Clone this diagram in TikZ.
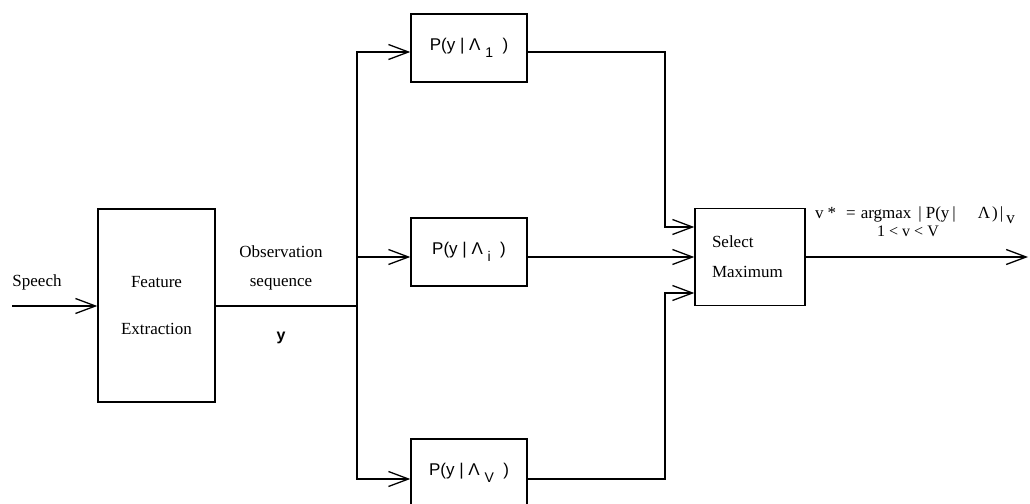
\documentclass[tikz,border=0pt]{standalone}
\usepackage{fontspec}
\setmainfont{Liberation Serif}
\newfontfamily\labelsans{Liberation Sans}
\usetikzlibrary{arrows.meta}
\tikzset{
  block/.style={draw, line width=1.4pt, inner sep=0pt},
  link/.style={line width=1.4pt},
  flow/.style={link, -{Straight Barb[length=20pt, width=15pt, line width=1.3pt]}},
  prob/.style={block, minimum width=116pt, minimum height=68pt,
    font=\labelsans\fontsize{17}{20}\selectfont},
}
\newcommand{\lik}[1]{P(y\ |\ Λ\ \raisebox{-7pt}{\fontsize{14}{14}\selectfont #1}\ \ )}

\begin{document}
\begin{tikzpicture}[x=1pt, y=-1pt, font=\fontsize{17}{20}\selectfont]
  \useasboundingbox (0,0) rectangle (1030,503);

  % Front end
  \node (speech) at (37,282) {Speech};
  \coordinate (mic) at (12,306);
  \node[block, minimum width=117pt, minimum height=193pt, align=center]
    (feat) at (156.5,305.5) {Feature\\[27pt]Extraction};
  \draw[flow] (mic) -- (mic -| feat.west);

  % Observation sequence
  \node[align=center] (obs) at (281,267.5) {Observation\\[9pt]sequence};
  \node[font=\labelsans\bfseries\fontsize{16}{18}\selectfont] (obsy) at (281,338) {y};
  \coordinate (split) at (357,306);
  \draw[link] (feat.east |- split) -- (split);

  % Model likelihoods
  \node[prob] (p1) at (469,48) {\lik{1}};
  \node[prob] (pi) at (469,252) {\lik{i}};
  \node[prob] (pv) at (469,473) {\lik{V}};
  \draw[flow] (split) |- ([yshift=-4pt]p1.west);
  \draw[flow] (split) |- ([yshift=-5pt]pi.west);
  \draw[flow] (split) |- ([yshift=-6pt]pv.west);

  % Selection
  \node[block, minimum width=110pt, minimum height=97pt, text width=76pt,
    inner xsep=17pt, align=left] (sel) at (750,257) {Select\\[10pt]Maximum};
  \coordinate (m1) at (665,227);
  \coordinate (m3) at (665,293);
  \draw[flow] ([yshift=-4pt]p1.east) -| (m1) -- (m1 -| sel.west);
  \draw[flow] ([yshift=-5pt]pi.east) -- (sel.west);
  \draw[flow] ([yshift=-6pt]pv.east) -| (m3) -- (m3 -| sel.west);

  % Decision rule
  \coordinate (out) at (1028,257);
  \draw[flow] (sel.east) -- (out);
  \node[anchor=base west, inner sep=0pt] (rule) at (815,218)
    {v\hspace{4pt}*\hspace{10pt}=\hspace{5pt}argmax\hspace{7pt}|\hspace{4pt}P(y\hspace{3pt}|\hspace{22pt}Λ\hspace{2pt})\hspace{2pt}|\hspace{3pt}\raisebox{-5pt}{v}};
  \node[font=\fontsize{16}{18}\selectfont] (range) at (908,231) {1 < v < V};
\end{tikzpicture}
\end{document}
